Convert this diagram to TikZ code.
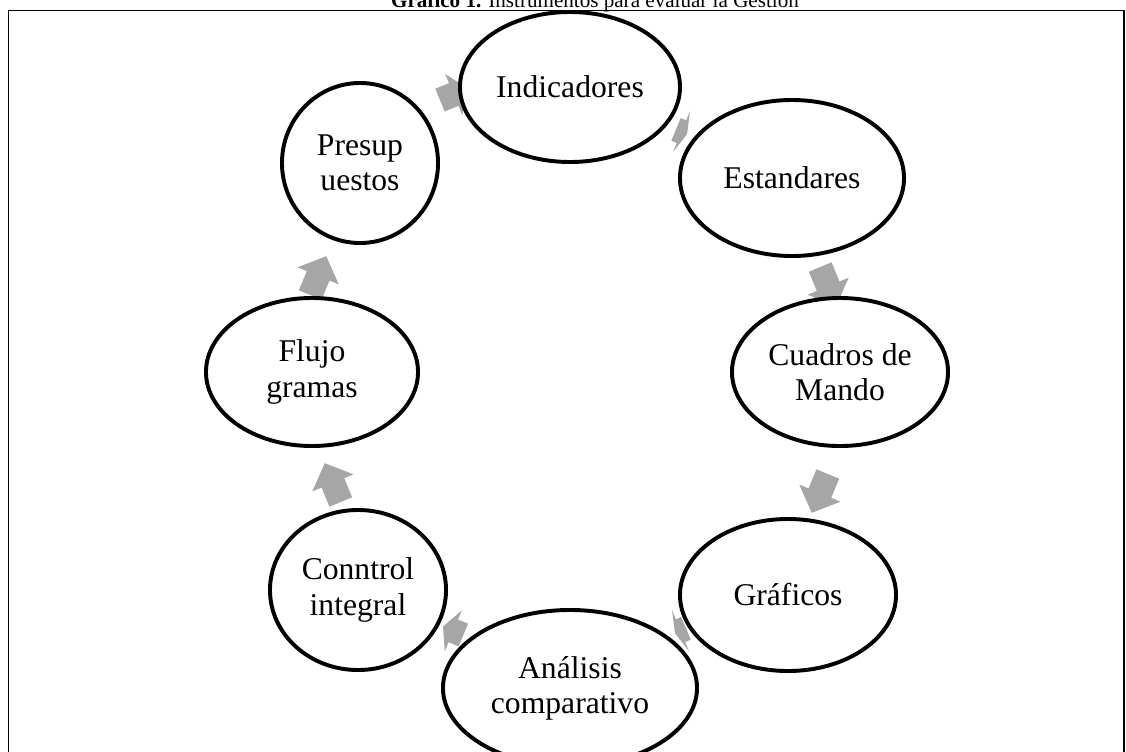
\documentclass[tikz,border=0pt]{standalone}
\usepackage{fontspec}
\setmainfont{Liberation Serif}
\usetikzlibrary{shapes.geometric,shapes.arrows}
\definecolor{grisflecha}{RGB}{166,166,166}
\tikzset{
  elipse/.style={ellipse, draw=black, line width=2.8pt, fill=white, inner sep=0pt, align=center, font=\fontsize{22.5}{25}\selectfont},
  flecha/.style={single arrow, fill=grisflecha, draw=none, inner xsep=0pt, inner ysep=0.3cm, single arrow head extend=0.25cm, minimum height=#1*0.025cm, single arrow tip angle={2*atan(44/#1)}}
}
\begin{document}
\begin{tikzpicture}[x=0.025cm, y=-0.025cm]
  	\clip (0,0) rectangle (1126,751);
  	\node[anchor=base, font=\fontsize{15}{18}\selectfont](T0) at (595,7.5) {\textbf{Gráfico 1.} Instrumentos para evaluar la Gestión};
  	\draw[line width=0.8pt] (8.5,10.5) rectangle (1124,770);
  	
  	\node[flecha=30, rotate=22.5](A0) at (450,96) {};
  	\node[flecha=12, rotate=-22.5](A1) at (680,131) {};
  	\node[flecha=42, rotate=-67.5](A2) at (826,281) {};
  	\node[flecha=42, rotate=-112.5](A3) at (822,488) {};
  	\node[flecha=12, rotate=-157.5](A4) at (682,630) {};
  	\node[flecha=22, rotate=157.5](A5) at (456,632) {};
  	\node[flecha=42, rotate=112.5](A6) at (335,488) {};
  	\node[flecha=42, rotate=67.5](A7) at (316,281) {};
  	
  	\node[elipse, minimum width=5.5cm, minimum height=3.75cm](E0) at (570,87) {Indicadores};
  	\node[elipse, minimum width=5.6cm, minimum height=3.9cm](E1) at (792,178) {Estandares};
  	\node[elipse, minimum width=5.4cm, minimum height=3.7cm](E2) at (840,372) {Cuadros de\\Mando};
  	\node[elipse, minimum width=5.4cm, minimum height=3.8cm](E3) at (788,595) {Gráficos};
  	\node[elipse, minimum width=6.35cm, minimum height=3.9cm](E4) at (570,688) {Análisis\\comparativo};
  	\node[elipse, minimum width=4.4cm, minimum height=4.0cm](E5) at (358,590) {Conntrol\\integral};
  	\node[elipse, minimum width=5.3cm, minimum height=3.7cm](E6) at (312,372) {Flujo\\gramas};
  	\node[elipse, minimum width=3.9cm, minimum height=4.0cm](E7) at (360,163) {Presup\\uestos};
\end{tikzpicture}
\end{document}
